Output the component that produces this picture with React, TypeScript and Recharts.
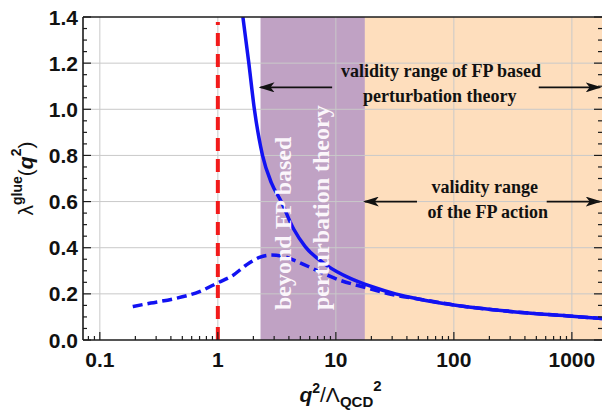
import {
  Label,
  Line,
  LineChart,
  ReferenceArea,
  ReferenceDot,
  ReferenceLine,
  XAxis,
  YAxis,
} from "recharts";

// q^2 / Lambda_QCD^2 on a log axis, lambda^glue on the linear one
const solidQ2 = [1.63, 1.82, 2.04, 2.39, 2.85, 3.44, 4.4, 5.5, 8.2, 13.4, 20, 32, 50, 100, 300, 1000, 1800];
const solidLambda = [1.4, 1.21, 1.0, 0.8, 0.68, 0.6, 0.48, 0.405, 0.327, 0.266, 0.232, 0.2, 0.178, 0.152, 0.124, 0.103, 0.093];

const dashedQ2 = [0.19, 0.27, 0.41, 0.7, 1.0, 1.34, 1.74, 2.25, 2.82, 3.6, 4.6, 6.8, 10.7, 17.9, 30, 50, 100, 300, 1000, 1800];
const dashedLambda = [0.145, 0.16, 0.177, 0.21, 0.248, 0.28, 0.325, 0.358, 0.368, 0.362, 0.342, 0.303, 0.26, 0.227, 0.197, 0.178, 0.152, 0.124, 0.103, 0.093];

const xDomain = [0.072, 1800];
const xMajorTicks = [0.1, 1, 10, 100, 1000];
const xTickLabels = ["0.1", "1", "10", "100", "1000"];
const yTickLabels = ["0.0", "0.2", "0.4", "0.6", "0.8", "1.0", "1.2", "1.4"];

// shaded ranges
const perturbBand = [2.3, 17.6];
const actionBand = [17.6, 1800];
const cutoffQ2 = 1;

// annotation arrows: tail -> head
const arrowTailQ2 = [9.3, 524, 48.7, 612];
const arrowHeadQ2 = [2.3, 1720, 17.6, 1720];
const arrowLambda = [1.095, 1.095, 0.6, 0.6];

const noteLines = ["validity range of FP based", "perturbation theory", "validity range", "of the FP action"];
const noteQ2 = [78, 76, 183, 194];
const noteLambda = [1.14, 1.032, 0.637, 0.529];

const bandNotes = ["beyond FP based", "perturbation theory"];
const bandNoteQ2 = [3.54, 7.48];
const bandNoteLambda = [0.13, 0.13];

const solidData = solidQ2.map((q2, i) => ({ q2, lam: solidLambda[i] }));
const dashedData = dashedQ2.map((q2, i) => ({ q2, lam: dashedLambda[i] }));

const xMinorTicks: number[] = [];
for (let e = -2; e <= 3; e++) {
  for (let m = 1; m <= 9; m++) {
    const v = Number((m * Math.pow(10, e)).toPrecision(3));
    if (v >= xDomain[0] && v <= xDomain[1]) xMinorTicks.push(v);
  }
}
const yTicks = Array.from({ length: 29 }, (_, i) => Math.round(i * 5) / 100);
const isYMajor = (v: number) => Math.round(v * 100) % 20 === 0;

const AXIS = "#1c1c1c";
const GRID = "#c9c9c9";
const SANS = "'Liberation Sans', Arial, sans-serif";
const SERIF = "'Liberation Serif', 'Times New Roman', serif";

function BottomTick(props: any) {
  const { x, y, payload } = props;
  const idx = xMajorTicks.indexOf(payload.value);
  const major = idx >= 0;
  return (
    <g>
      <line x1={x} x2={x} y1={y} y2={y - (major ? 8 : 4)} stroke={AXIS} strokeWidth={1.2} />
      {major && (
        <text x={x} y={y + 27} textAnchor="middle" fontFamily={SANS} fontWeight="bold" fontSize={21} fill="#111">
          {xTickLabels[idx]}
        </text>
      )}
    </g>
  );
}

function TopTick(props: any) {
  const { x, y, payload } = props;
  const major = xMajorTicks.includes(payload.value);
  return <line x1={x} x2={x} y1={y} y2={y + (major ? 8 : 4)} stroke={AXIS} strokeWidth={1.2} />;
}

function LeftTick(props: any) {
  const { x, y, payload } = props;
  const major = isYMajor(payload.value);
  return (
    <g>
      <line x1={x} x2={x + (major ? 8 : 4)} y1={y} y2={y} stroke={AXIS} strokeWidth={1.2} />
      {major && (
        <text x={x - 5} y={y} dy="0.36em" textAnchor="end" fontFamily={SANS} fontWeight="bold" fontSize={21} fill="#111">
          {yTickLabels[Math.round(payload.value * 5)]}
        </text>
      )}
    </g>
  );
}

function RightTick(props: any) {
  const { x, y, payload } = props;
  const major = isYMajor(payload.value);
  return <line x1={x} x2={x - (major ? 8 : 4)} y1={y} y2={y} stroke={AXIS} strokeWidth={1.2} />;
}

function YTitle(props: any) {
  const vb = props.viewBox;
  const cx = vb.x + vb.width - 58;
  const cy = vb.y + vb.height / 2;
  return (
    <text
      transform={`translate(${cx},${cy}) rotate(-90)`}
      textAnchor="middle"
      dominantBaseline="central"
      fontFamily={SANS}
      fontSize={21}
      fill="#111"
    >
      <tspan>λ</tspan>
      <tspan fontSize={14} fontWeight="bold" dy={-8}>glue</tspan>
      <tspan dy={8}>(</tspan>
      <tspan fontWeight="bold" fontStyle="italic">q</tspan>
      <tspan fontSize={14} fontWeight="bold" dy={-9}>2</tspan>
      <tspan dy={9}>)</tspan>
    </text>
  );
}

function XTitle(props: any) {
  const vb = props.viewBox;
  return (
    <text x={vb.x + vb.width / 2 - 2} y={vb.y + 62} textAnchor="middle" fontFamily={SANS} fontSize={21} fill="#111">
      <tspan fontWeight="bold" fontStyle="italic">q</tspan>
      <tspan fontSize={14} fontWeight="bold" dy={-9}>2</tspan>
      <tspan dy={9}>/Λ</tspan>
      <tspan fontSize={15} fontWeight="bold" dy={5}>QCD</tspan>
      <tspan fontSize={15} fontWeight="bold" dy={-16}>2</tspan>
    </text>
  );
}

function noteLabel(text: string) {
  return (props: any) => {
    const vb = props.viewBox;
    return (
      <text x={vb.x} y={vb.y} textAnchor="middle" fontFamily={SERIF} fontWeight="bold" fontSize={18} fill="#111">
        {text}
      </text>
    );
  };
}

function bandLabel(text: string) {
  return (props: any) => {
    const vb = props.viewBox;
    return (
      <text
        transform={`translate(${vb.x},${vb.y}) rotate(-90)`}
        textAnchor="start"
        dominantBaseline="central"
        fontFamily={SERIF}
        fontWeight="bold"
        fontSize={24}
        fill="#fbf6fb"
      >
        {text}
      </text>
    );
  };
}

export default function App() {
  return (
    <div style={{ position: "absolute", left: 0, top: 0, width: 603, height: 416, background: "#fff" }}>
      <LineChart width={603} height={416} margin={{ top: 16, right: 0, bottom: 75, left: 82 }}>
        <defs>
          <marker
            id="arrowHead"
            viewBox="0 0 16 10"
            refX={14}
            refY={5}
            markerWidth={16}
            markerHeight={10}
            markerUnits="userSpaceOnUse"
            orient="auto"
          >
            <path d="M0,0 L16,5 L0,10 L4,5 Z" fill="#111" />
          </marker>
        </defs>
        <XAxis
          xAxisId={0}
          dataKey="q2"
          type="number"
          scale="log"
          domain={xDomain}
          allowDataOverflow
          ticks={xMinorTicks}
          interval={0}
          tick={<BottomTick />}
          tickLine={false}
          tickSize={0}
          tickMargin={0}
          height={1}
          axisLine={{ stroke: AXIS, strokeWidth: 1.6 }}
        >
          <Label content={<XTitle />} />
        </XAxis>
        <XAxis
          xAxisId="top"
          orientation="top"
          type="number"
          scale="log"
          domain={xDomain}
          allowDataOverflow
          ticks={xMinorTicks}
          interval={0}
          tick={<TopTick />}
          tickLine={false}
          tickSize={0}
          tickMargin={0}
          height={1}
          axisLine={{ stroke: AXIS, strokeWidth: 1.6 }}
        />
        <YAxis
          yAxisId={0}
          type="number"
          domain={[0, 1.4]}
          allowDataOverflow
          ticks={yTicks}
          interval={0}
          tick={<LeftTick />}
          tickLine={false}
          tickSize={0}
          tickMargin={0}
          width={1}
          axisLine={{ stroke: AXIS, strokeWidth: 1.6 }}
        >
          <Label content={<YTitle />} />
        </YAxis>
        <YAxis
          yAxisId="right"
          orientation="right"
          type="number"
          domain={[0, 1.4]}
          allowDataOverflow
          ticks={yTicks}
          interval={0}
          tick={<RightTick />}
          tickLine={false}
          tickSize={0}
          tickMargin={0}
          width={1}
          axisLine={false}
        />

        {xMajorTicks.map((v) => (
          <ReferenceLine key={"gx" + v} x={v} stroke={GRID} strokeWidth={1} />
        ))}
        {yTicks.filter((v) => isYMajor(v) && v > 0 && v < 1.4).map((v) => (
          <ReferenceLine key={"gy" + v} y={v} stroke={GRID} strokeWidth={1} />
        ))}

        <ReferenceLine
          segment={[{ x: cutoffQ2, y: 0 }, { x: cutoffQ2, y: 1.378 }]}
          stroke="#f21b1b"
          strokeWidth={4}
          strokeDasharray="13 8"
        />

        <Line
          data={solidData}
          dataKey="lam"
          type="monotone"
          stroke="#1212f2"
          strokeWidth={3.5}
          dot={false}
          isAnimationActive={false}
        />
        <Line
          data={dashedData}
          dataKey="lam"
          type="monotone"
          stroke="#1212f2"
          strokeWidth={3.5}
          strokeDasharray="10 5"
          dot={false}
          isAnimationActive={false}
        />

        {arrowTailQ2.map((tail, i) => (
          <Line
            key={"arrow" + i}
            data={[
              { q2: tail, lam: arrowLambda[i] },
              { q2: arrowHeadQ2[i], lam: arrowLambda[i] },
            ]}
            dataKey="lam"
            stroke="#111"
            strokeWidth={1.7}
            dot={false}
            markerEnd="url(#arrowHead)"
            isAnimationActive={false}
          />
        ))}

        {noteLines.map((t, i) => (
          <ReferenceDot
            key={"note" + i}
            x={noteQ2[i]}
            y={noteLambda[i]}
            r={0}
            fill="none"
            stroke="none"
            label={<Label content={noteLabel(t)} />}
          />
        ))}

        <ReferenceArea
          x1={perturbBand[0]}
          x2={perturbBand[1]}
          y1={0}
          y2={1.4}
          fill="rgb(115,48,124)"
          fillOpacity={0.45}
          stroke="none"
        />
        <ReferenceArea
          x1={actionBand[0]}
          x2={actionBand[1]}
          y1={0}
          y2={1.4}
          fill="rgb(251,145,38)"
          fillOpacity={0.3}
          stroke="none"
        />

        {bandNotes.map((t, i) => (
          <ReferenceDot
            key={"band" + i}
            x={bandNoteQ2[i]}
            y={bandNoteLambda[i]}
            r={0}
            fill="none"
            stroke="none"
            label={<Label content={bandLabel(t)} />}
          />
        ))}
      </LineChart>
    </div>
  );
}
